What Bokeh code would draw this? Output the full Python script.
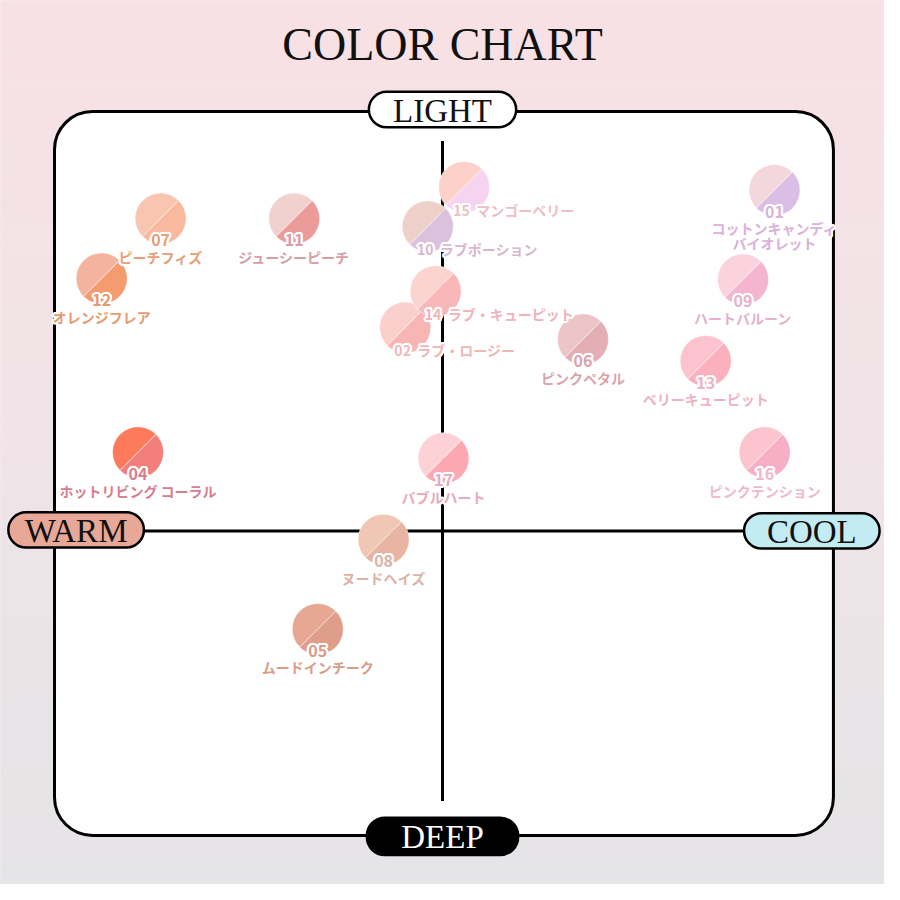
import numpy as np
from bokeh.plotting import figure
from bokeh.models import Range1d, ColumnDataSource
from bokeh.core.properties import value
from bokeh.embed import file_html
from bokeh.resources import INLINE

# ---- data: position on the WARM(-)/COOL(+) and DEEP(-)/LIGHT(+) map ----
codes = ["01", "02", "04", "05", "06", "07", "08", "09",
         "10", "11", "12", "13", "14", "15", "16", "17"]
names = ["コットンキャンディ\nバイオレット", "ラブ・ロージー", "ホットリビング コーラル", "ムードインチーク",
         "ピンクペタル", "ピーチフィズ", "ヌードヘイズ", "ハートバルーン",
         "ラブポーション", "ジューシーピーチ", "オレンジフレア", "ベリーキューピット",
         "ラブ・キューピット", "マンゴーベリー", "ピンクテンション", "バブルハート"]
warm_cool = [338, -38, -310, -127, 143, -287, -60, 306,
             -15, -151, -347, 268, -7, 22, 328, 1]
light_deep = [347, 207, 80, -100, 195, 318, -9, 256,
              310, 318, 257, 173, 244, 350, 80, 74]
color_top = ["#f4d6dd", "#fbd0cc", "#fd7b5b", "#e6a893", "#ecc5c9", "#f8c5b0", "#efc7b4", "#fad3de",
             "#eed0c9", "#f0d1cd", "#f4b39e", "#fbc3cd", "#fbd4d0", "#fbd1c8", "#fbc4ce", "#fdd1d6"]
color_bottom = ["#dcbde5", "#f7b6b4", "#f27f7c", "#de9e89", "#e3afb5", "#f8b99e", "#e9b5a3", "#f5b5d1",
                "#dcc1dd", "#ec9b9b", "#f59b70", "#fbb1bd", "#f8b7b9", "#f6d4ef", "#f6afc5", "#fba8b3"]
label_color = ["#d9b1d9", "#eeb8b8", "#d87c8e", "#d99c88", "#d9a3ab", "#e69f78", "#dcb2a6", "#e6b1cb",
               "#d9b7ce", "#d69ea6", "#e69a72", "#eeb3c2", "#f0b3b8", "#ecbfc6", "#f0b8cc", "#e7abb9"]
label_side = ["below", "right", "below", "below", "below", "below", "below", "below",
              "right", "below", "below", "below", "right", "right", "below", "below"]

axis_words = ["LIGHT", "DEEP", "WARM", "COOL"]

# ---- figure ----
p = figure(width=884, height=884, x_range=Range1d(-450, 450), y_range=Range1d(-360, 540),
           output_backend="svg", toolbar_location=None, min_border=0)
p.axis.visible = False
p.grid.visible = False
p.outline_line_color = None
p.background_fill_color = "#eee3e6"
p.border_fill_color = "#eee3e6"

# background gradient (pink top -> grey bottom)
ys = np.linspace(540, -360, 91)
top_rgb = np.array([248, 225, 229])
mid_rgb = np.array([240, 228, 232])
bot_rgb = np.array([229, 228, 230])
cols = []
for i in range(90):
    t = i / 89
    if t < 0.5:
        c = top_rgb + (mid_rgb - top_rgb) * (t / 0.5)
    else:
        c = mid_rgb + (bot_rgb - mid_rgb) * ((t - 0.5) / 0.5)
    cols.append("#%02x%02x%02x" % tuple(int(round(v)) for v in c))
p.quad(left=-450, right=450, top=ys[:-1], bottom=ys[1:], fill_color=cols, line_color=cols)

# title
p.text(x=[0], y=[495], text=["COLOR CHART"], text_font=value("Liberation Serif"),
       text_font_size="46px", text_align="center", text_baseline="middle", text_color="#111111")

# frame
p.quad(left=-395, right=398, top=427, bottom=-310, fill_color="white", line_color="black",
       line_width=3, border_radius=38)

# axis lines
p.segment(x0=[0], y0=[397], x1=[0], y1=[-275], line_color="black", line_width=3)
p.segment(x0=[-305], y0=[0], x1=[307], y1=[0], line_color="black", line_width=3)

# pills
pill_left = [-75, -77, -442, 307]
pill_right = [75, 77, -304, 445]
pill_top = [447, -292, 19, 18]
pill_bottom = [411, -330, -17, -18]
pill_fill = ["white", "black", "#e8a898", "#c2ecf1"]
pill_text = ["#111111", "white", "#111111", "#111111"]
p.quad(left=pill_left, right=pill_right, top=pill_top, bottom=pill_bottom,
       fill_color=pill_fill, line_color="black", line_width=2.5, border_radius=18)
p.text(x=[(a + b) / 2 for a, b in zip(pill_left, pill_right)],
       y=[(a + b) / 2 - 1 for a, b in zip(pill_top, pill_bottom)],
       text=axis_words, text_color=pill_text, text_font=value("Liberation Serif"),
       text_font_size="33px", text_align="center", text_baseline="middle")

# swatches
src = ColumnDataSource(dict(x=warm_cool, y=light_deep, ca=color_top, cb=color_bottom))
p.wedge(x="x", y="y", radius=26, start_angle=np.pi / 4, end_angle=5 * np.pi / 4,
        fill_color="ca", line_color="white", line_alpha=0.5, line_width=1, source=src)
p.wedge(x="x", y="y", radius=26, start_angle=5 * np.pi / 4, end_angle=9 * np.pi / 4,
        fill_color="cb", line_color="white", line_alpha=0.5, line_width=1, source=src)

# labels
bx, by, bt, bc = [], [], [], []          # numbers below
nx, ny, nt, nc = [], [], [], []          # names below
rx, ry, rt, rc = [], [], [], []          # right-side labels
for code, name, x, y, col, side in zip(codes, names, warm_cool, light_deep, label_color, label_side):
    if side == "right":
        rx.append(x - 11); ry.append(y - 23)
        rt.append(code + "\u00a0\u00a0" + name); rc.append(col)
    else:
        bx.append(x); by.append(y - 22); bt.append(code); bc.append(col)
        for k, line in enumerate(name.split("\n")):
            nx.append(x); ny.append(y - 39 - 15 * k); nt.append(line); nc.append(col)

common = dict(text_font=value("Noto Sans CJK JP"), text_font_style="bold",
              text_baseline="middle")
offsets = [(dx, dy) for dx in (-2, -1, 0, 1, 2) for dy in (-2, -1, 0, 1, 2)
           if (dx, dy) != (0, 0) and abs(dx) + abs(dy) <= 3]


def halo_text(xs, ys_, ts, cs, size, align):
    for dx, dy in offsets:
        p.text(x=xs, y=ys_, text=ts, text_color="white", text_font_size=size,
               text_align=align, x_offset=dx, y_offset=dy, **common)
    p.text(x=xs, y=ys_, text=ts, text_color=cs, text_font_size=size, text_align=align, **common)


halo_text(bx, by, bt, bc, "16px", "center")
halo_text(nx, ny, nt, nc, "14px", "center")
halo_text(rx, ry, rt, rc, "14px", "left")

open("out.html", "w").write(file_html(p, INLINE))
